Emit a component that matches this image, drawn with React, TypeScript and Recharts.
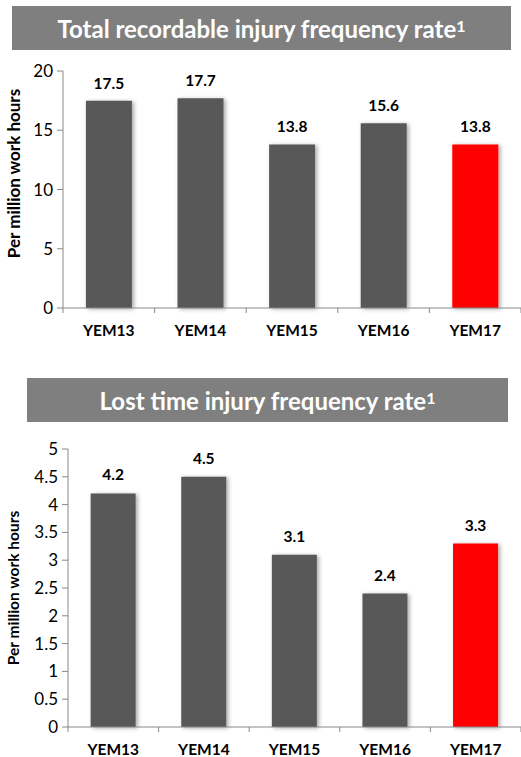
import { BarChart, Bar, XAxis, YAxis, Cell, LabelList, Label } from "recharts";

const years = ["YEM13", "YEM14", "YEM15", "YEM16", "YEM17"];
const trifr = [17.5, 17.7, 13.8, 15.6, 13.8];
const ltifr = [4.2, 4.5, 3.1, 2.4, 3.3];
const trifrTicks = [0, 5, 10, 15, 20];
const ltifrTicks = [0, 0.5, 1, 1.5, 2, 2.5, 3, 3.5, 4, 4.5, 5];
const barColors = ["#595959", "#595959", "#595959", "#595959", "#ff0000"];

const FONT = "Lato, 'Open Sans', sans-serif";
const AXIS = "#898989";

function CatTick(props: any) {
  const { x, y, payload, index, width, visibleTicksCount, fontSize } = props;
  const bw = width / visibleTicksCount;
  return (
    <g>
      <line x1={x - bw / 2} x2={x - bw / 2} y1={y} y2={y + 5} stroke={AXIS} />
      {index === visibleTicksCount - 1 && (
        <line x1={x + bw / 2} x2={x + bw / 2} y1={y} y2={y + 5} stroke={AXIS} />
      )}
      <text
        x={x}
        y={y + 28}
        textAnchor="middle"
        fontFamily={FONT}
        fontWeight="bold"
        fontSize={fontSize}
        fill="#000"
      >
        {payload.value}
      </text>
    </g>
  );
}

function SideLabel(props: any) {
  const { viewBox, value, cx, dy, fontSize } = props;
  const y = viewBox.y + viewBox.height / 2 + dy;
  return (
    <text
      x={cx}
      y={y}
      transform={`rotate(-90, ${cx}, ${y})`}
      textAnchor="middle"
      dominantBaseline="central"
      fontFamily={FONT}
      fontWeight="bold"
      fontSize={fontSize}
      fill="#000"
    >
      {value}
    </text>
  );
}

function TitleBar({ text, left, top, width }: { text: string; left: number; top: number; width: number }) {
  return (
    <div
      style={{
        position: "absolute",
        left,
        top,
        width,
        height: 44,
        background: "#7f7f7f",
        color: "#fff",
        fontFamily: FONT,
        fontWeight: "bold",
        fontSize: 24,
        display: "flex",
        alignItems: "center",
        justifyContent: "center",
      }}
    >
      {text}
      <sup style={{ fontSize: 16, position: "relative", top: -3 }}>1</sup>
    </div>
  );
}

function RateChart({
  values,
  ticks,
  max,
  top,
  height,
  margin,
  axisWidth,
  labelOffset,
  labelDy,
  sideSize,
}: {
  values: number[];
  ticks: number[];
  max: number;
  top: number;
  height: number;
  margin: { top: number; right: number; left: number; bottom: number };
  axisWidth: number;
  labelOffset: number;
  labelDy: number;
  sideSize: number;
}) {
  const data = years.map((year, i) => ({ year, value: values[i] }));
  return (
    <div style={{ position: "absolute", left: 0, top }}>
      <BarChart width={521} height={height} data={data} margin={margin} barCategoryGap="25%">
        <defs>
          <filter id={`shadow${top}`} x="-20%" y="-10%" width="150%" height="130%">
            <feDropShadow dx="2" dy="1" stdDeviation="2" floodColor="#000" floodOpacity="0.35" />
          </filter>
        </defs>
        <XAxis
          dataKey="year"
          stroke={AXIS}
          tickLine={false}
          tickSize={0}
          tickMargin={0}
          height={30}
          interval={0}
          tick={<CatTick fontSize={15.5} />}
        />
        <YAxis
          domain={[0, max]}
          ticks={ticks}
          width={axisWidth}
          stroke={AXIS}
          tickSize={6}
          tickMargin={4}
          interval={0}
          tick={{ fill: "#000", fontSize: 17, fontFamily: FONT }}
        >
          <Label
            content={<SideLabel cx={13} dy={labelDy} fontSize={sideSize} value="Per million work hours" />}
          />
        </YAxis>
        <Bar dataKey="value" isAnimationActive={false} filter={`url(#shadow${top})`}>
          {data.map((d, i) => (
            <Cell key={d.year} fill={barColors[i]} />
          ))}
          <LabelList
            dataKey="value"
            position="top"
            offset={labelOffset}
            formatter={(v: any) => Number(v).toFixed(1)}
            style={{ fill: "#000", fontWeight: "bold", fontSize: 15.5, fontFamily: FONT }}
          />
        </Bar>
      </BarChart>
    </div>
  );
}

export default function App() {
  return (
    <div style={{ position: "absolute", left: 0, top: 0, width: 521, height: 757, background: "#fff" }}>
      <TitleBar text="Total recordable injury frequency rate" left={12} top={6} width={499} />
      <RateChart
        values={trifr}
        ticks={trifrTicks}
        max={20}
        top={0}
        height={345}
        margin={{ top: 71, right: 0, left: 0, bottom: 7 }}
        axisWidth={63}
        labelOffset={12}
        labelDy={-16}
        sideSize={17}
      />
      <TitleBar text="Lost time injury frequency rate" left={27} top={378} width={481} />
      <RateChart
        values={ltifr}
        ticks={ltifrTicks}
        max={5}
        top={430}
        height={327}
        margin={{ top: 19, right: 0, left: 0, bottom: 0 }}
        axisWidth={68}
        labelOffset={13}
        labelDy={0}
        sideSize={15.5}
      />
    </div>
  );
}
